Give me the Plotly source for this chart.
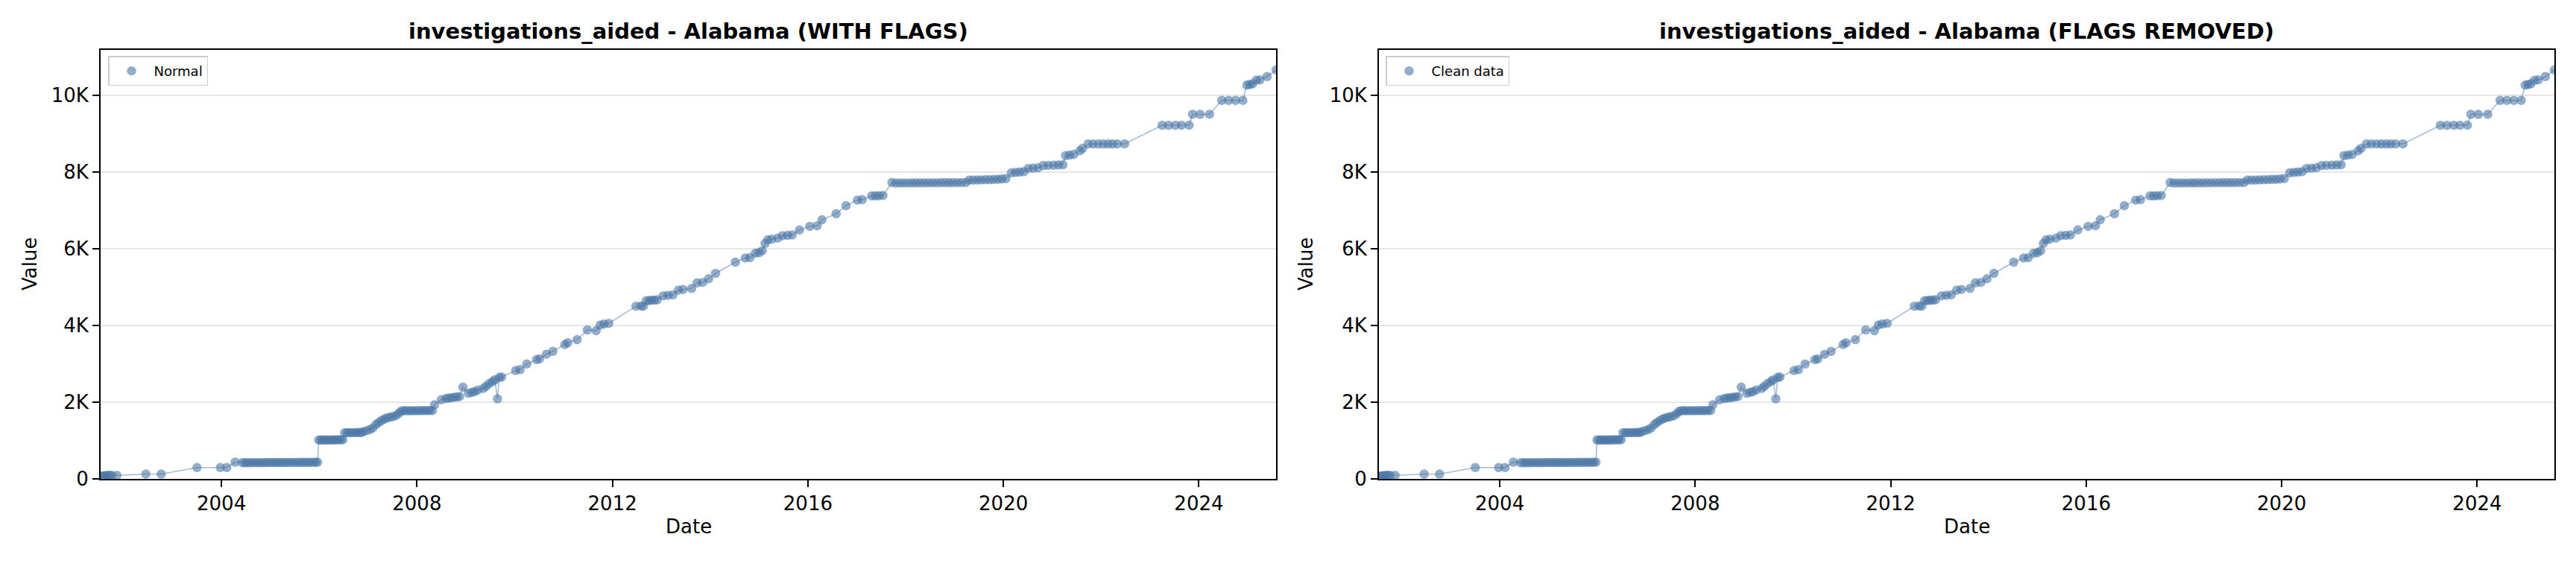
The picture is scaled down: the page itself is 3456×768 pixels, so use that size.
import plotly.graph_objects as go

# ---------------- data ----------------
dates = [
    "2001-07-12", "2001-07-26", "2001-08-09", "2001-08-23", "2001-09-06", "2001-09-20", "2001-10-04", "2001-11-10",
    "2002-06-15", "2002-10-08",
    "2003-07-02", "2003-12-24", "2004-02-10", "2004-04-12",
    "2004-06-05", "2004-06-25", "2004-07-15", "2004-08-05", "2004-08-25", "2004-09-15", "2004-10-05", "2004-10-25",
    "2004-11-15", "2004-12-05", "2004-12-25", "2005-01-15", "2005-02-05", "2005-02-25", "2005-03-15", "2005-04-05",
    "2005-04-25", "2005-05-15", "2005-06-05", "2005-06-25", "2005-07-15", "2005-08-05", "2005-08-25", "2005-09-15",
    "2005-10-05", "2005-10-25", "2005-11-15", "2005-12-05", "2005-12-20",
    "2005-12-28", "2006-01-12", "2006-01-27", "2006-02-11", "2006-02-26", "2006-03-13", "2006-03-28", "2006-04-12",
    "2006-04-27", "2006-05-12", "2006-05-27", "2006-06-11", "2006-06-26",
    "2006-07-10", "2006-07-28", "2006-08-15", "2006-09-02", "2006-09-20", "2006-10-08", "2006-10-26", "2006-11-10",
    "2006-11-25", "2006-12-20", "2007-01-15", "2007-02-05", "2007-03-01", "2007-03-20", "2007-04-10", "2007-05-01",
    "2007-05-20", "2007-06-10", "2007-07-01", "2007-07-25", "2007-08-15", "2007-09-01", "2007-09-20",
    "2007-10-08", "2007-10-28", "2007-11-17", "2007-12-07", "2007-12-27", "2008-01-16", "2008-02-05", "2008-02-25",
    "2008-03-16", "2008-04-05", "2008-04-25",
    "2008-05-12", "2008-07-01", "2008-08-05", "2008-08-25", "2008-09-15", "2008-10-05", "2008-10-25", "2008-11-15",
    "2008-12-10", "2009-01-20", "2009-02-15", "2009-03-08", "2009-04-01", "2009-05-12", "2009-06-01", "2009-06-25",
    "2009-07-20", "2009-08-05", "2009-08-25", "2009-09-08", "2009-09-25",
    "2010-01-08", "2010-02-10", "2010-04-01", "2010-06-13", "2010-07-05", "2010-08-25", "2010-10-12",
    "2011-01-10", "2011-02-01", "2011-04-12", "2011-06-28", "2011-09-01", "2011-10-01", "2011-10-30", "2011-12-05",
    "2012-06-25", "2012-08-01", "2012-08-20", "2012-09-10", "2012-10-01", "2012-10-20", "2012-11-10", "2012-12-01",
    "2013-01-15", "2013-02-20", "2013-03-28", "2013-05-08", "2013-06-12", "2013-08-15", "2013-09-25", "2013-11-05",
    "2013-12-20", "2014-02-10", "2014-07-08", "2014-09-20", "2014-10-25", "2014-12-05", "2015-01-01", "2015-01-25",
    "2015-02-15", "2015-03-08", "2015-04-05", "2015-05-20", "2015-06-25", "2015-08-01", "2015-09-05", "2015-10-30",
    "2016-01-15", "2016-03-10", "2016-04-15", "2016-07-30", "2016-10-12", "2017-01-05", "2017-02-10",
    "2017-04-22", "2017-05-20", "2017-06-15", "2017-07-15",
    "2017-09-20", "2017-10-20", "2017-11-20", "2017-12-20", "2018-01-20", "2018-02-20", "2018-03-20", "2018-04-20",
    "2018-05-20", "2018-06-20", "2018-07-20", "2018-08-20", "2018-09-20", "2018-10-20", "2018-11-20", "2018-12-20",
    "2019-01-20", "2019-02-20", "2019-03-25",
    "2019-04-20", "2019-05-20", "2019-06-20", "2019-07-20", "2019-08-20", "2019-09-20", "2019-10-20", "2019-11-20",
    "2019-12-20", "2020-01-20",
    "2020-03-01", "2020-04-01", "2020-05-01", "2020-06-01", "2020-07-05", "2020-08-10", "2020-09-15", "2020-10-25",
    "2020-12-01", "2021-01-10", "2021-02-15", "2021-03-20", "2021-04-10", "2021-05-10", "2021-06-10", "2021-07-25",
    "2021-08-15", "2021-09-25", "2021-11-01", "2021-12-10", "2022-01-15", "2022-02-20", "2022-03-25", "2022-05-01",
    "2022-06-25",
    "2023-04-01", "2023-05-20", "2023-07-10", "2023-08-25", "2023-10-20",
    "2023-11-15", "2024-01-10", "2024-03-20",
    "2024-06-20", "2024-08-10", "2024-10-01", "2024-11-25",
    "2024-12-25", "2025-01-15", "2025-02-05", "2025-03-05", "2025-04-01", "2025-05-25", "2025-07-31",
]

values = [
    70, 80, 85, 90, 95, 95, 95, 95,
    130, 130,
    300, 300, 300, 440,
    425, 425, 426, 426, 427, 427, 428, 428,
    428, 429, 429, 430, 430, 430, 431, 431,
    432, 432, 432, 433, 433, 434, 434, 435,
    435, 436, 436, 437, 438,
    1017, 1017, 1018, 1018, 1019, 1019, 1020, 1020,
    1021, 1022, 1023, 1024, 1025,
    1207, 1207, 1208, 1208, 1209, 1210, 1211, 1212,
    1230, 1260, 1290, 1330, 1420, 1470, 1520, 1560,
    1590, 1610, 1625, 1650, 1700, 1760, 1785,
    1780, 1780, 1781, 1781, 1782, 1782, 1783, 1783,
    1784, 1785, 1786,
    1937, 2065, 2100, 2110, 2120, 2130, 2140, 2150,
    2394, 2236, 2260, 2280, 2320, 2362, 2420, 2490,
    2540, 2585, 2090, 2648, 2660,
    2826, 2851, 2998, 3112, 3130, 3251, 3328,
    3505, 3550, 3632, 3886, 3867, 4013, 4040, 4057,
    4503, 4510, 4503, 4648, 4650, 4660, 4660, 4670,
    4775, 4790, 4800, 4922, 4940, 4966, 5112, 5124,
    5219, 5360, 5651, 5760, 5770, 5886, 5900, 5950,
    6141, 6236, 6250, 6280, 6343, 6350, 6360, 6490,
    6585, 6600, 6756, 6914, 7124, 7270, 7280,
    7379, 7380, 7385, 7390,
    7728, 7714, 7715, 7716, 7716, 7717, 7718, 7718,
    7719, 7720, 7720, 7721, 7722, 7722, 7723, 7724,
    7725, 7726, 7728,
    7790, 7790, 7790, 7795, 7800, 7800, 7810, 7810,
    7820, 7830,
    7981, 7990, 8000, 8010, 8095, 8100, 8110, 8171,
    8175, 8180, 8185, 8190, 8427, 8440, 8460, 8552,
    8617, 8731, 8731, 8731, 8732, 8732, 8733, 8733,
    8734,
    9219, 9219, 9220, 9220, 9221,
    9505, 9505, 9506,
    9867, 9867, 9868, 9868,
    10267, 10280, 10300, 10394, 10400, 10490, 10661,
]

y_tick_vals = [0, 2000, 4000, 6000, 8000, 10000]
y_tick_text = ["0", "2K", "4K", "6K", "8K", "10K"]
x_tick_vals = ["2004-01-01", "2008-01-01", "2012-01-01", "2016-01-01", "2020-01-01", "2024-01-01"]
x_tick_text = ["2004", "2008", "2012", "2016", "2020", "2024"]

titles = ["investigations_aided - Alabama (WITH FLAGS)", "investigations_aided - Alabama (FLAGS REMOVED)"]
legend_names = ["Normal", "Clean data"]

# ---------------- styling ----------------
W = 3456
H = 768
FONT = "DejaVu Sans"
BLUE = "#4C78A8"
LINE_RGBA = "rgba(76,120,168,0.5)"


def py(px):
    return 1 - px / H


x_domains = [[135 / W, 1712 / W], [1850 / W, 3427 / W]]
y_domain = [py(656), py(68)]
x_range = ["2001-07-12", "2025-07-31"]
y_range = [0, 11190]

fig = go.Figure()

for i in range(2):
    sfx = "" if i == 0 else "2"
    xa, ya = "x" + sfx, "y" + sfx
    fig.add_trace(go.Scatter(
        x=dates, y=values, mode="lines", xaxis=xa, yaxis=ya,
        line=dict(color=LINE_RGBA, width=1.6), showlegend=False, hoverinfo="skip",
    ))
    fig.add_trace(go.Scatter(
        x=dates, y=values, mode="markers", xaxis=xa, yaxis=ya,
        name=legend_names[i], legend="legend" if i == 0 else "legend2",
        marker=dict(color=BLUE, size=11, opacity=0.6, line=dict(color=BLUE, width=1.5)),
    ))

axis_common = dict(
    showline=True, linecolor="black", linewidth=2, mirror=True,
    ticks="outside", ticklen=9, tickwidth=2, tickcolor="black",
    tickfont=dict(family=FONT, size=26, color="black"),
    zeroline=False,
)

for i in range(2):
    sfx = "" if i == 0 else "2"
    fig.update_layout({
        "xaxis" + sfx: dict(
            axis_common, domain=x_domains[i], anchor="y" + sfx, type="date",
            range=x_range, tickvals=x_tick_vals, ticktext=x_tick_text, showgrid=False,
        ),
        "yaxis" + sfx: dict(
            axis_common, domain=y_domain, anchor="x" + sfx, range=y_range,
            tickvals=y_tick_vals, ticktext=y_tick_text,
            showgrid=True, gridcolor="#e6e6e6", gridwidth=1.6,
        ),
    })

annotations = []
for i in range(2):
    cx = (x_domains[i][0] + x_domains[i][1]) / 2
    annotations.append(dict(
        text="<b>" + titles[i] + "</b>", x=cx, y=py(43), xref="paper", yref="paper",
        xanchor="center", yanchor="middle", showarrow=False,
        font=dict(family=FONT, size=29, color="black"),
    ))
    annotations.append(dict(
        text="Date", x=cx, y=py(721), xref="paper", yref="paper",
        xanchor="center", yanchor="middle", showarrow=False,
        font=dict(family=FONT, size=26, color="black"),
    ))
    vx = [40 / W, 1752 / W][i]
    annotations.append(dict(
        text="Value", x=vx, y=py(362), xref="paper", yref="paper",
        xanchor="center", yanchor="middle", showarrow=False, textangle=-90,
        font=dict(family=FONT, size=26, color="black"),
    ))

legend_common = dict(
    xanchor="left", yanchor="top", bgcolor="rgba(255,255,255,0.8)",
    bordercolor="#cccccc", borderwidth=1.5, itemwidth=50,
    font=dict(family=FONT, size=18, color="black"),
)

fig.update_layout(
    width=W, height=H,
    margin=dict(l=0, r=0, t=0, b=0),
    paper_bgcolor="white", plot_bgcolor="white",
    font=dict(family=FONT, color="black"),
    annotations=annotations,
    legend=dict(legend_common, x=145 / W, y=py(77)),
    legend2=dict(legend_common, x=1859 / W, y=py(77)),
)

fig.write_html(
    "out.html",
    config={"displayModeBar": False},
    post_script="document.body.style.margin='0';document.body.style.overflow='hidden';",
)
